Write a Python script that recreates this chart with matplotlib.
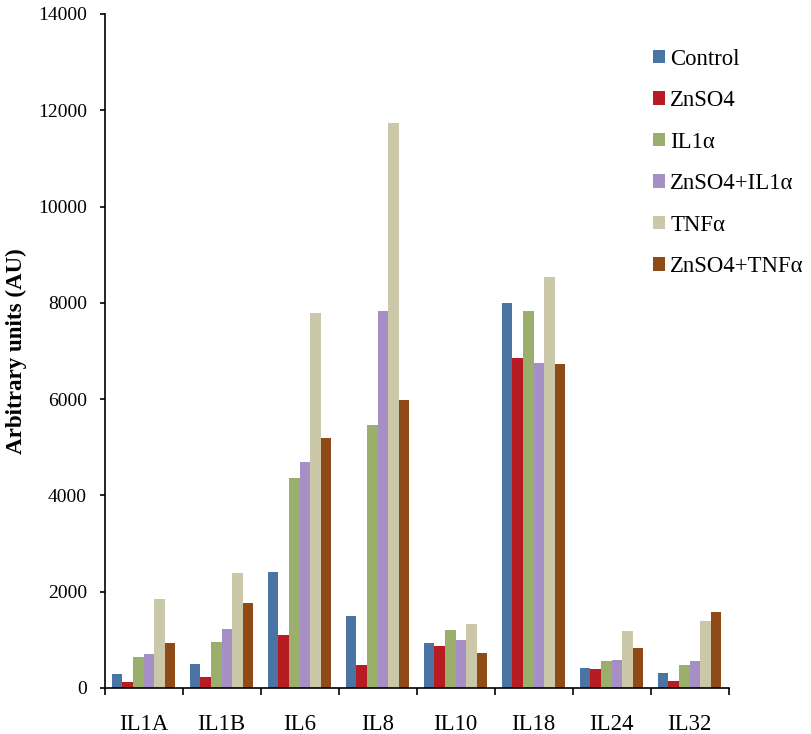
import matplotlib.pyplot as plt
import numpy as np

plt.rcParams["font.family"] = ["Liberation Serif", "DejaVu Serif"]

categories = ["IL1A", "IL1B", "IL6", "IL8", "IL10", "IL18", "IL24", "IL32"]
series_names = ["Control", "ZnSO4", "IL1\u03b1", "ZnSO4+IL1\u03b1", "TNF\u03b1", "ZnSO4+TNF\u03b1"]

control = [285, 500, 2400, 1485, 935, 8000, 420, 305]
znso4 = [130, 230, 1110, 475, 875, 6850, 395, 150]
il1a = [640, 950, 4370, 5460, 1205, 7840, 560, 485]
znso4_il1a = [710, 1235, 4700, 7840, 1005, 6760, 590, 565]
tnfa = [1845, 2395, 7780, 11740, 1330, 8540, 1180, 1385]
znso4_tnfa = [935, 1755, 5190, 5985, 730, 6730, 830, 1580]

colors = ["#4A74A3", "#B71C22", "#9AAF6B", "#A68FC5", "#CBC7A9", "#8F4A17"]

all_series = [control, znso4, il1a, znso4_il1a, tnfa, znso4_tnfa]

fig = plt.figure(figsize=(8.12, 7.34), dpi=100)
ax = fig.add_axes([0.1287, 0.0627, 0.7685, 0.9183])

x = np.arange(len(categories))
bar_w = 0.135
for i, (vals, name, col) in enumerate(zip(all_series, series_names, colors)):
    ax.bar(x + (i - 2.5) * bar_w, vals, width=bar_w, color=col, label=name, linewidth=0)

ax.set_xlim(-0.5, len(categories) - 0.5)
ax.set_ylim(0, 14000)
ax.set_yticks(np.arange(0, 14001, 2000))
ax.set_xticks(x)
ax.set_xticklabels(categories, fontsize=16.4)
ax.set_xticks(np.arange(-0.5, len(categories)), minor=True)
ax.tick_params(axis="x", which="major", length=0, pad=18.5)
ax.tick_params(axis="x", which="minor", length=5, width=1.2, direction="out")
ax.tick_params(axis="y", length=3.6, width=1.2, direction="out", pad=9, labelsize=14)

for side in ["top", "right"]:
    ax.spines[side].set_visible(False)
for side in ["left", "bottom"]:
    ax.spines[side].set_linewidth(1.2)

ax.set_ylabel("Arbitrary units (AU)", fontsize=16.6, fontweight="bold", labelpad=8)

ax.legend(loc="upper left", bbox_to_anchor=(0.864, 0.962), frameon=False,
          fontsize=16.4, handlelength=0.55, handleheight=0.55,
          handletextpad=0.22, labelspacing=0.9, borderaxespad=0)

fig.savefig("out.png", dpi=100)
